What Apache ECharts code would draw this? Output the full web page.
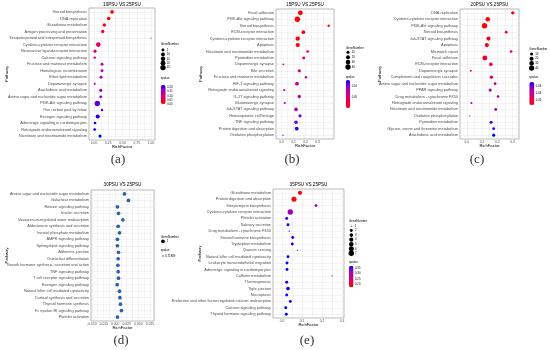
<!DOCTYPE html>
<html>
<head>
<meta charset="utf-8">
<script src="https://cdn.jsdelivr.net/npm/echarts@6/dist/echarts.min.js"></script>
<style>
html,body{margin:0;padding:0;background:#ffffff;}
#chart{width:550px;height:350px;}
</style>
</head>
<body>
<div id="chart"></div>
<script>
// ---------- Panel (a) 10PSU VS 25PSU ----------
const catsA = ["Steroid biosynthesis","DNA replication","Glutathione metabolism","Antigen processing and presentation","Sesquiterpenoid and triterpenoid biosynthesis","Cytokine-cytokine receptor interaction","Neuroactive ligand-receptor interaction","Calcium signaling pathway","Fructose and mannose metabolism","Homologous recombination","Ether lipid metabolism","Dopaminergic synapse","Arachidonic acid metabolism","Amino sugar and nucleotide sugar metabolism","PI3K-Akt signaling pathway","One carbon pool by folate","Estrogen signaling pathway","Adrenergic signaling in cardiomyocytes","Retrograde endocannabinoid signaling","Nicotinate and nicotinamide metabolism"];
const richA = [0.316,0.258,0.181,0.153,1.0,0.075,0.018,0.012,0.140,0.140,0.123,0.012,0.118,0.118,0.058,0.140,0.065,0.018,0.012,0.105];
const geneA = [9,9,8,7,1,17,6,3,5,5,5,2,6,5,25,3,12,4,4,6];
const qA = [0.002,0.004,0.01,0.02,0.03,0.08,0.09,0.10,0.13,0.14,0.15,0.15,0.16,0.17,0.20,0.21,0.22,0.225,0.228,0.232];
const xTicksA = [0,0.25,0.5,0.75,1.0];
const sizeBreaksA = [5,10,15,20,25];
const qTicksA = [0.20,0.15,0.10,0.05,0.00];

// ---------- Panel (b) 15PSU VS 25PSU ----------
const catsB = ["Focal adhesion","PI3K-Akt signaling pathway","Steroid biosynthesis","ECM-receptor interaction","Cytokine-cytokine receptor interaction","Apoptosis","Nicotinate and nicotinamide metabolism","Pyrimidine metabolism","Dopaminergic synapse","Bile secretion","Fructose and mannose metabolism","HIF-1 signaling pathway","Retrograde endocannabinoid signaling","IL-17 signaling pathway","Glutamatergic synapse","Jak-STAT signaling pathway","Hematopoietic cell lineage","TNF signaling pathway","Protein digestion and absorption","Oxidative phosphorylation"];
const richB = [0.157,0.132,0.393,0.182,0.135,0.135,0.218,0.185,0.015,0.148,0.204,0.129,0.023,0.148,0.027,0.121,0.154,0.121,0.127,0.0125];
const geneB = [32,42,5,16,26,24,7,9,3,11,6,18,4,12,4,15,11,15,17,2];
const qB = [0.003,0.004,0.006,0.01,0.012,0.015,0.025,0.03,0.045,0.055,0.06,0.07,0.072,0.08,0.085,0.095,0.105,0.11,0.12,0.13];
const xTicksB = [0,0.1,0.2,0.3];
const sizeBreaksB = [10,20,30,40];
const qTicksB = [0.10,0.05];

// ---------- Panel (c) 20PSU VS 25PSU ----------
const catsC = ["DNA replication","Cytokine-cytokine receptor interaction","PI3K-Akt signaling pathway","Steroid biosynthesis","Jak-STAT signaling pathway","Apoptosis","Mismatch repair","Focal adhesion","ECM-receptor interaction","Dopaminergic synapse","Complement and coagulation cascades","Amino sugar and nucleotide sugar metabolism","PPAR signaling pathway","Drug metabolism - cytochrome P450","Retrograde endocannabinoid signaling","Nicotinate and nicotinamide metabolism","Oxidative phosphorylation","Pyrimidine metabolism","Glycine, serine and threonine metabolism","Arachidonic acid metabolism"];
const richC = [0.301,0.137,0.116,0.258,0.142,0.131,0.290,0.118,0.157,0.026,0.161,0.185,0.153,0.205,0.030,0.189,0.019,0.159,0.176,0.176];
const geneC = [12,28,43,8,22,24,7,35,15,3,12,8,11,7,4,9,2,11,8,10];
const qC = [0.008,0.009,0.009,0.012,0.013,0.014,0.018,0.018,0.022,0.035,0.038,0.045,0.048,0.052,0.053,0.056,0.058,0.063,0.068,0.072];
const xTicksC = [0,0.1,0.2,0.3];
const sizeBreaksC = [10,20,30,40];
const qTicksC = [0.06,0.04,0.02];

// ---------- Panel (d) 30PSU VS 25PSU ----------
const catsD = ["Amino sugar and nucleotide sugar metabolism","Galactose metabolism","Relaxin signaling pathway","Insulin secretion","Vasopressin-regulated water reabsorption","Aldosterone synthesis and secretion","Inositol phosphate metabolism","AMPK signaling pathway","Sphingolipid signaling pathway","Adherens junction","Osteoclast differentiation","Growth hormone synthesis, secretion and action","TNF signaling pathway","T cell receptor signaling pathway","Estrogen signaling pathway","Natural killer cell mediated cytotoxicity","Cortisol synthesis and secretion","Thyroid hormone synthesis","Fc epsilon RI signaling pathway","Platelet activation"];
const richD = [0.0201,0.0286,0.0051,0.0073,0.0167,0.0066,0.0094,0.0051,0.0051,0.0073,0.0066,0.0060,0.0066,0.0073,0.0045,0.0094,0.0103,0.0115,0.0137,0.0051];
const geneD = [1,1,1,1,1,1,1,1,1,1,1,1,1,1,1,1,1,1,1,1];
const qD = [0.71869,0.71869,0.71869,0.71869,0.71869,0.71869,0.71869,0.71869,0.71869,0.71869,0.71869,0.71869,0.71869,0.71869,0.71869,0.71869,0.71869,0.71869,0.71869,0.71869];
const xTicksD = [-0.05,-0.025,0,0.025,0.05,0.075];
const sizeBreaksD = [1];
const qTicksD = [0.71869];

// ---------- Panel (e) 35PSU VS 25PSU ----------
const catsE = ["Glutathione metabolism","Protein digestion and absorption","Streptomycin biosynthesis","Cytokine-cytokine receptor interaction","Platelet activation","Salivary secretion","Drug metabolism - cytochrome P450","Steroid hormone biosynthesis","Tryptophan metabolism","Quorum sensing","Natural killer cell mediated cytotoxicity","Leukocyte transendothelial migration","Adrenergic signaling in cardiomyocytes","Caffeine metabolism","Thermogenesis","Tight junction","Necroptosis","Endocrine and other factor-regulated calcium reabsorption","Calcium signaling pathway","Thyroid hormone signaling pathway"];
const richE = [0.09,0.06,0.17,0.0415,0.0235,0.03,0.0365,0.0535,0.0515,0.0785,0.03,0.025,0.025,0.25,0.0235,0.03,0.0235,0.0415,0.0185,0.0215];
const geneE = [4,6,2,7,2,2,1,2,2,1,2,2,2,1,2,3,2,2,2,2];
const qE = [0.17,0.175,0.32,0.315,0.37,0.37,0.37,0.37,0.37,0.35,0.37,0.37,0.37,0.375,0.37,0.37,0.37,0.37,0.372,0.372];
const xTicksE = [0,0.1,0.2,0.3];
const sizeBreaksE = [1,2,3,4,5,6,7];
const qTicksE = [0.35,0.30,0.25,0.20];

// ---------- styling / layout ----------
const FONT = '"Liberation Sans", Arial, Helvetica, sans-serif';
const SERIF = '"Liberation Serif", "Times New Roman", serif';
const GRADIENT = ['#FF0000','#E8004F','#CA0089','#9A00C2','#0000FF'];

const panels = [
  {title:'10PSU VS 25PSU', tag:'(a)', cats:catsA, rich:richA, gene:geneA, q:qA, xTicks:xTicksA, xDec:2,
   qTicks:qTicksA, sizeBreaks:sizeBreaksA, qRange:[0,0.232],
   grid:{left:89, top:8, width:66, height:132}, xRange:[-0.088,1.07], yNameGap:80, titleY:4.5, tagXY:[118,160],
   leg:{x:160.7, titleY:44, itemY0:50, itemStep:4.4, qTitleY:78.5, barY:85, barH:19, barW:5}},
  {title:'15PSU VS 25PSU', tag:'(b)', cats:catsB, rich:richB, gene:geneB, q:qB, xTicks:xTicksB, xDec:1,
   qTicks:qTicksB, sizeBreaks:sizeBreaksB, qRange:[0.003,0.13],
   grid:{left:276, top:9, width:58, height:130}, xRange:[-0.046,0.4375], yNameGap:73, titleY:4.5, tagXY:[292,160],
   leg:{x:345.7, titleY:47.7, itemY0:52.3, itemStep:4.9, qTitleY:77.3, barY:80, barH:28, barW:4.5}},
  {title:'20PSU VS 25PSU', tag:'(c)', cats:catsC, rich:richC, gene:geneC, q:qC, xTicks:xTicksC, xDec:1,
   qTicks:qTicksC, sizeBreaks:sizeBreaksC, qRange:[0.008,0.072],
   grid:{left:460, top:9, width:59, height:130}, xRange:[-0.045,0.342], yNameGap:78, titleY:4.5, tagXY:[477,160],
   leg:{x:529.3, titleY:49.3, itemY0:54, itemStep:4.67, qTitleY:77.3, barY:82, barH:23, barW:5}},
  {title:'30PSU VS 25PSU', tag:'(d)', cats:catsD, rich:richD, gene:geneD, q:qD, xTicks:xTicksD, xDec:3,
   qTicks:qTicksD, sizeBreaks:sizeBreaksD, fixedColor:'#2B63A6',
   grid:{left:91, top:190, width:63, height:131}, xRange:[-0.0517,0.0835], yNameGap:82, titleY:185, tagXY:[121,341],
   leg:{x:160.7, titleY:236.7, itemY0:241.3, itemStep:0, qTitleY:250, qItemY:256}},
  {title:'35PSU VS 25PSU', tag:'(e)', cats:catsE, rich:richE, gene:geneE, q:qE, xTicks:xTicksE, xDec:1,
   qTicks:qTicksE, sizeBreaks:sizeBreaksE, qRange:[0.17,0.376],
   grid:{left:273, top:189, width:71, height:129}, xRange:[-0.045,0.31], yNameGap:71, titleY:185, tagXY:[307,341],
   leg:{x:349, titleY:221, itemY0:226, itemStep:4.55, qTitleY:262.3, barY:265.7, barH:21.6, barW:4.5}}
];

function minorsOf(ticks, lo, hi) {
  const step = ticks[1] - ticks[0];
  const out = [];
  for (let k = -1; k < ticks.length; k++) {
    const m = +(ticks[0] + (k + 0.5) * step).toFixed(6);
    if (m > lo && m < hi) out.push(m);
  }
  return out;
}

const option = {
  animation: false,
  backgroundColor: '#ffffff',
  textStyle: {fontFamily: FONT},
  grid: [], xAxis: [], yAxis: [], series: [], visualMap: [],
  graphic: {elements: []}
};
const G = option.graphic.elements;
function txt(x, y, text, size, opts) {
  G.push({type:'text', x:x, y:y, silent:true, z:10,
    style:Object.assign({text:text, fontSize:size, fontFamily:FONT, fill:'#000', align:'left', verticalAlign:'middle'}, opts || {})});
}

panels.forEach((p, i) => {
  const n = p.cats.length;
  const idx = p.cats.map((_, j) => j);
  const minors = minorsOf(p.xTicks, p.xRange[0], p.xRange[1]);
  option.grid.push({left:p.grid.left, top:p.grid.top, width:p.grid.width, height:p.grid.height,
    show:true, borderColor:'#8c8c8c', borderWidth:0.6, backgroundColor:'#ffffff', containLabel:false});
  option.xAxis.push({
    gridIndex:i, type:'value', min:p.xRange[0], max:p.xRange[1],
    axisLine:{show:false},
    axisTick:{show:false, customValues:p.xTicks.concat(minors)},
    axisLabel:{customValues:p.xTicks, formatter:v => Number(v).toFixed(p.xDec), fontSize:3.3, color:'#4D4D4D', margin:2, fontFamily:FONT},
    splitLine:{show:true, lineStyle:{color:'#E6E6E6', width:0.5}},
    name:'RichFactor', nameLocation:'middle', nameGap:5, nameMoveOverlap:false,
    nameTextStyle:{fontSize:4.2, color:'#000', fontFamily:FONT}
  });
  option.yAxis.push({
    gridIndex:i, type:'value', inverse:true, min:-0.6, max:n - 0.4,
    axisLine:{show:false},
    axisTick:{show:false, customValues:idx},
    axisLabel:{customValues:idx, formatter:v => p.cats[Math.round(v)] || '', fontSize:3.85, color:'#4D4D4D', margin:2, fontFamily:FONT},
    splitLine:{show:true, lineStyle:{color:'#E6E6E6', width:0.5}},
    name:'Pathway', nameLocation:'middle', nameGap:p.yNameGap, nameRotate:90, nameMoveOverlap:false,
    nameTextStyle:{fontSize:4.2, color:'#000', fontFamily:FONT}
  });
  const gmin = Math.min.apply(null, p.gene), gmax = Math.max.apply(null, p.gene);
  const sz = g => gmax === gmin ? 3.7 : 1.2 + 4.2 * Math.sqrt((g - gmin) / (gmax - gmin));
  const ser = {
    type:'scatter', xAxisIndex:i, yAxisIndex:i, silent:true, symbol:'circle',
    data:p.cats.map((c, j) => [p.rich[j], j, p.gene[j], p.q[j], c]),
    symbolSize:v => sz(v[2]),
    itemStyle:{opacity:1}
  };
  if (p.fixedColor) ser.itemStyle.color = p.fixedColor;
  option.series.push(ser);

  // title & tag
  const cx = p.grid.left + p.grid.width / 2;
  txt(cx, p.titleY, p.title, 4.6, {align:'center'});
  txt(p.tagXY[0], p.tagXY[1], p.tag, 13, {align:'center', fontFamily:SERIF, fill:'#333'});

  // size legend
  const L = p.leg;
  txt(L.x, L.titleY, 'GeneNumber', 3.0);
  p.sizeBreaks.forEach((b, k) => {
    const y = L.itemY0 + k * L.itemStep;
    G.push({type:'circle', silent:true, z:10, shape:{cx:L.x + 2.3, cy:y, r:sz(b) / 2}, style:{fill:'#000'}});
    txt(L.x + 6, y, String(b), 2.8);
  });
  txt(L.x, L.qTitleY, 'qvalue', 3.0);
  if (p.fixedColor) {
    G.push({type:'circle', silent:true, z:10, shape:{cx:L.x + 2.3, cy:L.qItemY, r:0.8}, style:{fill:p.fixedColor}});
    txt(L.x + 4.5, L.qItemY, p.qTicks[0].toFixed(5), 2.8);
  } else {
    option.visualMap.push({
      type:'continuous', seriesIndex:i, dimension:3, min:p.qRange[0], max:p.qRange[1],
      inRange:{color:GRADIENT}, calculable:false, hoverLink:false, padding:0,
      left:L.x, top:L.barY, itemWidth:L.barW, itemHeight:L.barH, text:null
    });
    p.qTicks.forEach(t => {
      const y = L.barY + L.barH - (t - p.qRange[0]) / (p.qRange[1] - p.qRange[0]) * L.barH;
      txt(L.x + L.barW + 1.5, y, t.toFixed(2), 2.8);
    });
  }
});

const chart = echarts.init(document.getElementById('chart'), null, {renderer:'canvas'});
chart.setOption(option);
</script>
</body>
</html>
